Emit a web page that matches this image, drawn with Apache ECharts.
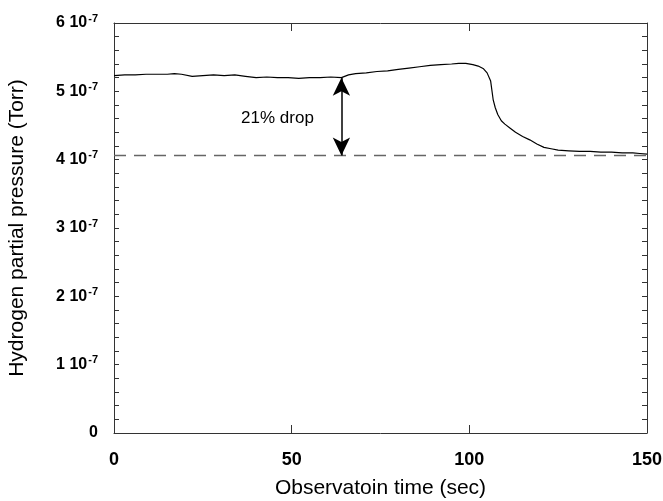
<!DOCTYPE html>
<html>
<head>
<meta charset="utf-8">
<script src="https://cdn.jsdelivr.net/npm/echarts@6/dist/echarts.min.js"></script>
<style>
  html, body { margin: 0; padding: 0; background: #fff; }
  #chart { width: 663px; height: 501px; }
</style>
</head>
<body>
<div id="chart"></div>
<script>
// Observation time (sec)
const times = [0, 3, 6, 9, 12, 15, 17, 19, 22, 25,
  28, 31, 34, 37, 40, 43, 46, 49, 52, 55,
  58, 61, 64, 66, 68, 71, 74, 77, 80, 83,
  86, 89, 92, 95, 97, 99, 101, 102.5, 104, 105,
  106, 106.7, 107.3, 108, 109, 110, 111.5, 113, 115, 117,
  119, 121, 123, 125, 128, 131, 134, 137, 140, 143,
  146, 148, 150];

// Hydrogen partial pressure, in units of 1e-7 Torr
const pressure = [5.23, 5.24, 5.24, 5.25, 5.25, 5.25, 5.26, 5.25, 5.22, 5.23,
  5.24, 5.23, 5.24, 5.22, 5.20, 5.21, 5.20, 5.20, 5.19, 5.20,
  5.20, 5.21, 5.20, 5.24, 5.26, 5.27, 5.29, 5.30, 5.32, 5.34,
  5.36, 5.38, 5.39, 5.40, 5.41, 5.41, 5.39, 5.37, 5.33, 5.27,
  5.15, 4.88, 4.76, 4.66, 4.57, 4.52, 4.46, 4.40, 4.34, 4.29,
  4.23, 4.18, 4.16, 4.14, 4.13, 4.12, 4.12, 4.11, 4.11, 4.10,
  4.10, 4.09, 4.08];

// Reference level (dashed) and annotation
const baseLevel = 4.06;
const arrowTime = 64;
const arrowTop = 5.20;
const dropText = '21% drop';
const dropTextPos = [46, 4.60];

const xTicks = [0, 50, 100, 150];

const chart = echarts.init(document.getElementById('chart'));

const frameLine = { show: true, onZero: false, lineStyle: { color: '#333', width: 1 } };
const font = 'Liberation Sans, Arial, sans-serif';

const yLabelFmt = v => v === 0 ? '{b|0}' : `{b|${v} 10}{s|-7}`;

const option = {
  animation: false,
  grid: { left: 114, right: 16, top: 23, bottom: 68, outerBoundsMode: 'none', containLabel: false },
  xAxis: [{
    type: 'value', min: 0, max: 150, interval: 50,
    name: 'Observatoin time (sec)', nameLocation: 'middle', nameGap: 45,
    nameTextStyle: { fontFamily: font, fontSize: 21, color: '#000' },
    axisLine: frameLine,
    axisTick: { inside: true, length: 8, lineStyle: { color: '#333' } },
    axisLabel: { margin: 18, fontFamily: font, fontSize: 18, fontWeight: 'bold', color: '#000',
      formatter: v => xTicks.includes(v) ? String(v) : '' },
    splitLine: { show: false }
  }, {
    type: 'value', position: 'top', min: 0, max: 150, interval: 50,
    axisLine: frameLine,
    axisTick: { inside: true, length: 8, lineStyle: { color: '#333' } },
    axisLabel: { show: false },
    splitLine: { show: false }
  }],
  yAxis: [{
    type: 'value', min: 0, max: 6, interval: 1,
    name: 'Hydrogen partial pressure (Torr)', nameLocation: 'middle', nameGap: 86,
    nameTextStyle: { fontFamily: font, fontSize: 21, color: '#000' },
    axisLine: frameLine,
    axisTick: { inside: true, length: 5, lineStyle: { color: '#333' } },
    minorTick: { show: true, splitNumber: 5, length: 5, lineStyle: { color: '#333' } },
    axisLabel: {
      margin: 16, formatter: yLabelFmt,
      rich: {
        b: { fontFamily: font, fontSize: 16, fontWeight: 'bold', color: '#000', lineHeight: 20 },
        s: { fontFamily: font, fontSize: 11, fontWeight: 'bold', color: '#000', verticalAlign: 'top', lineHeight: 20, padding: [0, 0, 10, 1] }
      }
    },
    splitLine: { show: false }
  }, {
    type: 'value', position: 'right', min: 0, max: 6, interval: 1,
    axisLine: frameLine,
    axisTick: { inside: true, length: 5, lineStyle: { color: '#333' } },
    minorTick: { show: true, splitNumber: 5, length: 5, lineStyle: { color: '#333' } },
    axisLabel: { show: false },
    splitLine: { show: false }
  }],
  series: [{
    type: 'line',
    data: times.map((t, i) => [t, pressure[i]]),
    showSymbol: false,
    lineStyle: { color: '#000', width: 1.2 },
    markLine: {
      silent: true,
      symbol: 'none',
      label: { show: false },
      data: [
        [{ coord: [0, baseLevel], lineStyle: { color: '#666', width: 1.3, type: [12, 8] } },
         { coord: [150, baseLevel] }],
        [{ coord: [arrowTime, arrowTop], symbol: 'arrow', symbolSize: [13, 18],
           lineStyle: { color: '#000', width: 1.5, type: 'solid' } },
         { coord: [arrowTime, baseLevel], symbol: 'arrow', symbolSize: [13, 18] }]
      ]
    },
    markPoint: {
      silent: true,
      symbol: 'circle', symbolSize: 0,
      label: { show: true, position: 'inside', formatter: dropText,
        fontFamily: font, fontSize: 17, color: '#000' },
      data: [{ coord: dropTextPos }]
    }
  }]
};

chart.setOption(option);
</script>
</body>
</html>
